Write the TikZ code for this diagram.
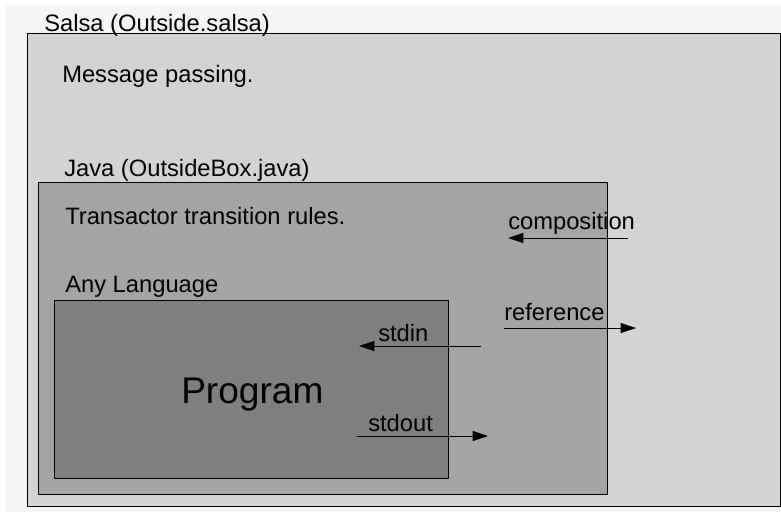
\documentclass[tikz,border=0pt]{standalone}
\usepackage{fontspec}
\setmainfont{Liberation Sans}
\usetikzlibrary{arrows.meta}
\definecolor{backgray}{RGB}{245,245,245}
\definecolor{salsagray}{RGB}{211,211,211}
\definecolor{javagray}{RGB}{164,164,164}
\definecolor{proggray}{RGB}{127,127,127}
\begin{document}
\begin{tikzpicture}[x=0.75pt,y=-0.75pt,line join=round,
	lbl/.style={anchor=base west,inner sep=0pt,font=\fontsize{17.8}{21}\selectfont},
	flow/.style={-{Triangle[length=11.5pt,width=7.5pt]},line width=0.75pt},
	box/.style={draw=black,line width=0.75pt}]
	\useasboundingbox (0,0) rectangle (781,512);
	\fill[backgray] (6,5) rectangle (781,512);
	% the three nested layers
	\draw[box,fill=salsagray] (27,33) rectangle (780,506);
	\draw[box,fill=javagray] (38,182) rectangle (607,494);
	\draw[box,fill=proggray] (54,300) rectangle (448,478);
	% layer titles and notes
	\node[lbl] (salsa) at (44,31) {Salsa (Outside.salsa)};
	\node[lbl] (msg) at (62,82) {Message passing.};
	\node[lbl] (java) at (64,176) {Java (OutsideBox.java)};
	\node[lbl] (rules) at (65,224) {Transactor transition rules.};
	\node[lbl] (anylang) at (65,292) {Any Language};
	\node[lbl,font=\fontsize{27.8}{32}\selectfont] (prog) at (181,403) {Program};
	% arrows between the layers
	\node[lbl] (comp) at (508,229) {composition};
	\coordinate (compA) at (628,238);
	\coordinate (compB) at (508,238);
	\node[lbl] (ref) at (504,320) {reference};
	\coordinate (refA) at (504,328);
	\coordinate (refB) at (636,328);
	\node[lbl] (in) at (378,341) {stdin};
	\coordinate (inA) at (481,346);
	\coordinate (inB) at (359,346);
	\node[lbl] (out) at (368,431) {stdout};
	\coordinate (outA) at (357,436);
	\coordinate (outB) at (488,436);
	\draw[flow] (compA)--(compB);
	\draw[flow] (refA)--(refB);
	\draw[flow] (inA)--(inB);
	\draw[flow] (outA)--(outB);
\end{tikzpicture}
\end{document}
